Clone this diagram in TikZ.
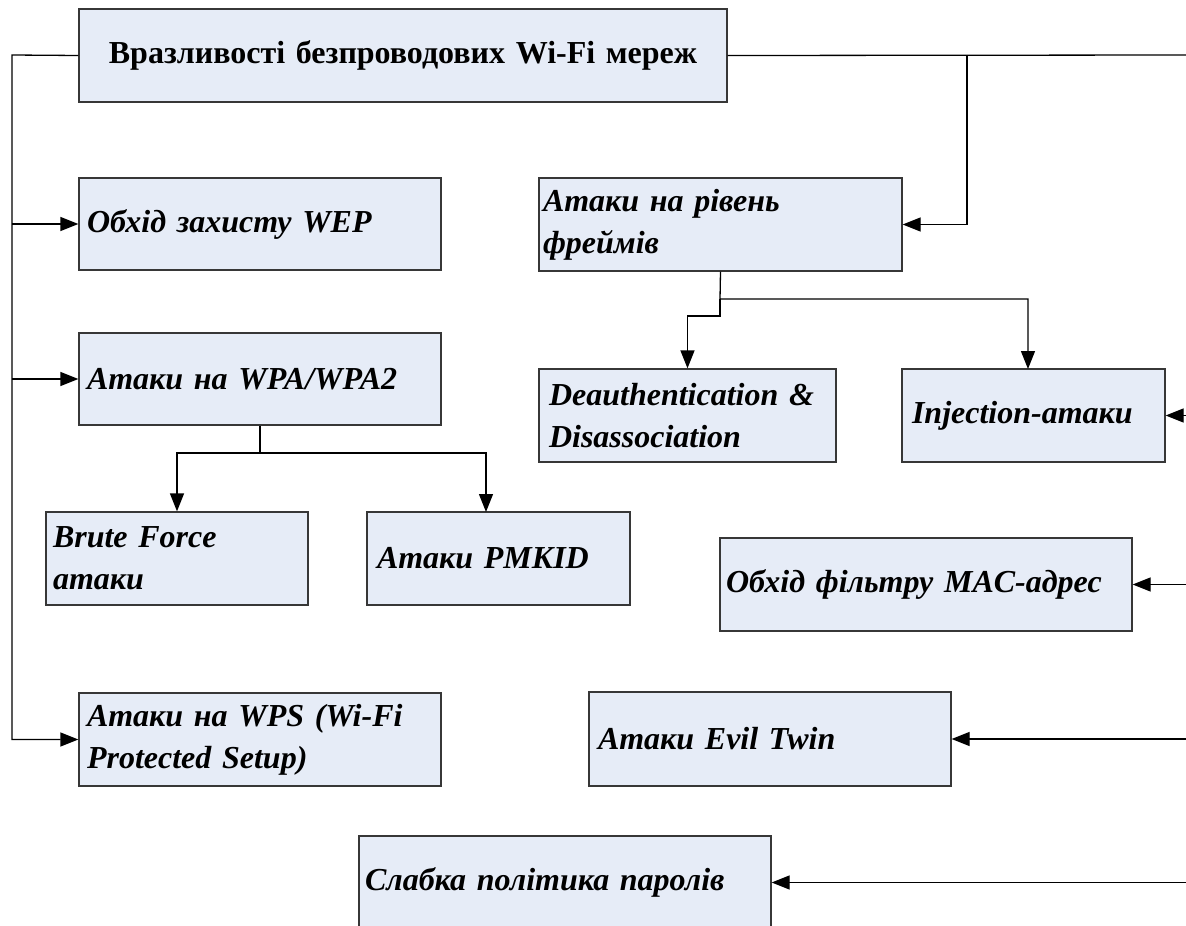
\documentclass[tikz,border=0pt]{standalone}
\usepackage{fontspec}
\setmainfont{Liberation Serif}
\usetikzlibrary{arrows.meta}

\definecolor{boxfill}{RGB}{230,236,247}
\definecolor{boxedge}{RGB}{55,55,55}

\tikzset{
  box/.style={draw=boxedge, fill=boxfill, line width=1.3pt, rectangle,
    inner xsep=8pt, inner ysep=0pt, align=left,
    font=\bfseries\itshape\fontsize{32}{42}\selectfont},
  headbox/.style={box, align=center,
    font=\bfseries\fontsize{32}{38}\selectfont},
  link/.style={line width=1.3pt, draw=black},
  arr/.style={link, -{Triangle[length=18pt,width=14pt]}}
}

\begin{document}
\begin{tikzpicture}[x=1pt,y=-1pt]
  \useasboundingbox (0,0) rectangle (1186,926);

  % root
  \node[headbox, text width=632pt, minimum height=93pt] (top) at (403,55.5)
    {Вразливості безпроводових Wi-Fi мереж};

  % left column
  \node[box, text width=346pt, minimum height=92pt] (wep) at (260,224)
    {Обхід захисту WEP};
  \node[box, text width=346pt, minimum height=92pt] (wpa) at (260,379)
    {Атаки на WPA/WPA2};
  \node[box, inner xsep=7pt, text width=248pt, minimum height=93pt] (brute) at (177,558.5)
    {Brute Force\\атаки};
  \node[box, inner xsep=10pt, text width=243pt, minimum height=93pt] (pmkid) at (498.5,558.5)
    {Атаки PMKID};
  \node[box, text width=346pt, minimum height=93pt] (wps) at (260,739.5)
    {Атаки на WPS (Wi-Fi\\Protected Setup)};

  % right column
  \node[box, inner xsep=4pt, text width=355pt, minimum height=93pt] (frames) at (720.5,224.5)
    {Атаки на рівень\\фреймів};
  \node[box, inner xsep=10pt, text width=277pt, minimum height=93pt] (deauth) at (687.5,415.5)
    {Deauthentication \&\\Disassociation};
  \node[box, inner xsep=10pt, text width=243pt, minimum height=93pt] (inj) at (1033.5,415.5)
    {Injection-атаки};
  \node[box, inner xsep=6pt, text width=400pt, minimum height=93pt] (mac) at (926,584.5)
    {Обхід фільтру MAC-адрес};
  \node[box, inner xsep=9pt, text width=344pt, minimum height=94pt] (evil) at (770,739)
    {Атаки Evil Twin};
  \node[box, inner xsep=6pt, text width=400pt, minimum height=93pt] (pass) at (565,882.5)
    {Слабка політика паролів};

  % junction points
  \coordinate (lbus) at (12,55);
  \coordinate (redge) at (1186,55);
  \coordinate (rbus) at (967,55);
  \coordinate (fj) at (720,299);
  \coordinate (fjl) at (720,316);
  \coordinate (injtop) at (1028,369);
  \coordinate (wj) at (260,453);
  \coordinate (pmtop) at (486,512);

  % left bus
  \draw[arr] (top.west) -- (lbus) |- (wps.west);
  \draw[arr] (lbus |- wep.west) -- (wep.west);
  \draw[arr] (lbus |- wpa.west) -- (wpa.west);

  % right bus
  \draw[link] (top.east) -- (redge);
  \draw[arr] (rbus) |- (frames.east);
  \draw[arr] (redge |- inj.east) -- (inj.east);
  \draw[arr] (redge |- mac.east) -- (mac.east);
  \draw[arr] (redge |- evil.east) -- (evil.east);
  \draw[arr] (redge |- pass.east) -- (pass.east);

  % frame-level attacks
  \draw[arr] (frames.south) -- (fj) -| (injtop);
  \draw[arr] (fj) -- (fjl) -| (deauth.north);

  % WPA/WPA2 attacks
  \draw[link] (wpa.south) -- (wj);
  \draw[arr] (wj) -| (brute.north);
  \draw[arr] (wj) -| (pmtop);
\end{tikzpicture}
\end{document}
